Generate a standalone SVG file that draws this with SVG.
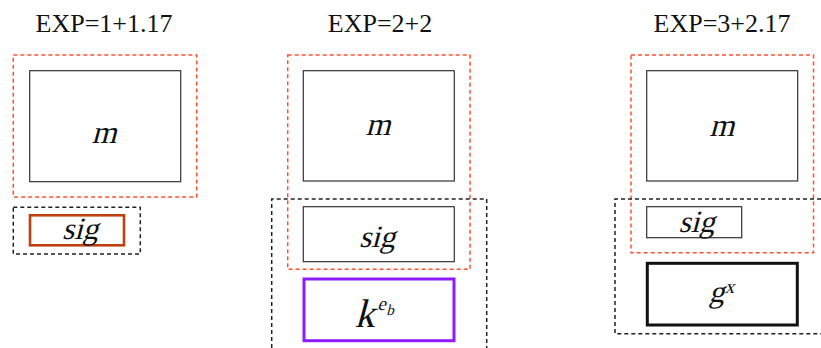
<svg xmlns="http://www.w3.org/2000/svg" width="821" height="348" viewBox="0 0 821 348">
<style>
.title{font-family:"Liberation Serif","Times New Roman",serif;font-size:26px;fill:#111;text-anchor:middle}
.it{font-family:"Liberation Serif","Times New Roman",serif;font-style:normal;fill:#111;text-anchor:middle}
.box{fill:#fff;stroke:#333;stroke-width:1.2}
.red{fill:none;stroke:#ff5030;stroke-width:1.5;stroke-dasharray:4 3}
.blk{fill:none;stroke:#222;stroke-width:1.5;stroke-dasharray:4 3}
</style>
<rect width="821" height="348" fill="#fff"/>
<text class="title" x="104" y="32">EXP=1+1.17</text>
<text class="title" x="380" y="32">EXP=2+2</text>
<text class="title" x="722" y="32">EXP=3+2.17</text>

<g id="panel1">
  <g id="m1"><rect class="box" x="29.7" y="70.7" width="151" height="111"/><text class="it" transform="translate(104,143) skewX(-15)" font-size="32">m</text></g>
  <g id="sig1"><rect x="30" y="215.3" width="94" height="30" fill="#fff" stroke="#c0400f" stroke-width="2.6"/><text class="it" transform="translate(80,238.5) skewX(-15)" font-size="31">sig</text></g>
  <rect id="red1" class="red" x="13.3" y="55" width="183.4" height="142"/>
  <rect id="blk1" class="blk" x="13.3" y="207.3" width="127" height="46.7"/>
</g>

<g id="panel2">
  <g id="m2"><rect class="box" x="303.3" y="70.7" width="151" height="110.3"/><text class="it" transform="translate(378,135) skewX(-15)" font-size="32">m</text></g>
  <g id="sig2"><rect class="box" x="303.3" y="206.7" width="151" height="55"/><text class="it" transform="translate(377,246.7) skewX(-15)" font-size="31">sig</text></g>
  <g id="k2"><rect x="304" y="279" width="150" height="61.7" fill="#fff" stroke="#8f1cff" stroke-width="3"/>
    <text class="it" transform="translate(364.5,326.7) skewX(-15)" font-size="40">k</text>
    <text class="it" transform="translate(381.5,310) skewX(-15)" font-size="19">e</text>
    <text class="it" transform="translate(390,315) skewX(-15)" font-size="15">b</text></g>
  <rect id="red2" class="red" x="287.7" y="55" width="182.3" height="214.3"/>
  <path id="blk2" class="blk" d="M271.7,348 V199 H486.7 V348"/>
</g>

<g id="panel3">
  <g id="m3"><rect class="box" x="646.7" y="70.7" width="151" height="110.3"/><text class="it" transform="translate(721.7,136) skewX(-15)" font-size="32">m</text></g>
  <g id="sig3"><rect class="box" x="646.7" y="206.7" width="95" height="31"/><text class="it" transform="translate(696.5,231.5) skewX(-15)" font-size="31">sig</text></g>
  <g id="g3"><rect x="647.3" y="263.3" width="150" height="61.7" fill="#fff" stroke="#111" stroke-width="3"/>
    <text class="it" transform="translate(716.5,301.5) skewX(-15)" font-size="31">g</text>
    <text class="it" transform="translate(729.5,293.3) skewX(-15)" font-size="19">x</text></g>
  <rect id="red3" class="red" x="631" y="55" width="182.5" height="197.7"/>
  <path id="blk3" class="blk" d="M821,199 H615 V333.7 H821"/>
</g>
<g id="connectors"/>
</svg>
